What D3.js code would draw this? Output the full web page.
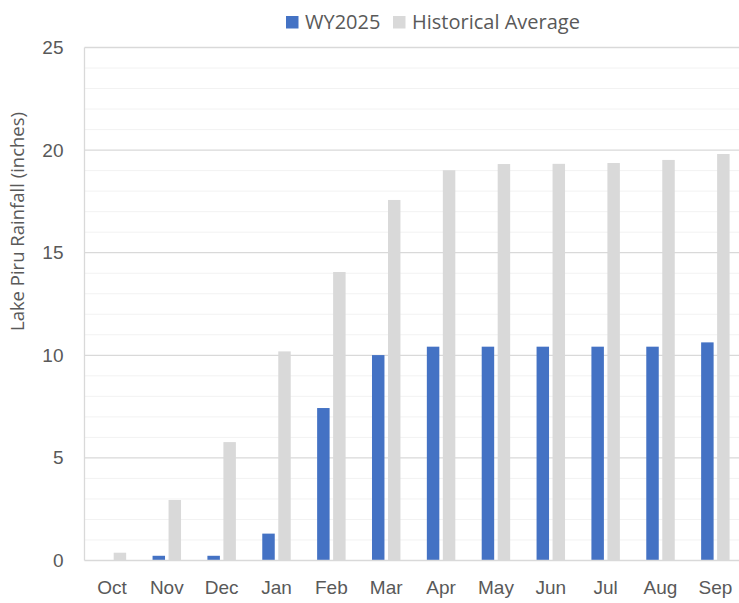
<!DOCTYPE html>
<html>
<head>
<meta charset="utf-8">
<title>Lake Piru Rainfall</title>
<script src="https://d3js.org/d3.v7.min.js"></script>
<style>
  body { margin: 0; background: #fff; }
  svg { display: block; font-family: "Open Sans", "Noto Sans", sans-serif; }
</style>
</head>
<body>
<svg id="chart" width="739" height="603"></svg>
<script>
var months = ['Oct', 'Nov', 'Dec', 'Jan', 'Feb', 'Mar', 'Apr', 'May', 'Jun', 'Jul', 'Aug', 'Sep'];
var wy2025 = [0, 0.23, 0.23, 1.31, 7.43, 10.01, 10.42, 10.42, 10.42, 10.42, 10.42, 10.63];
var histAvg = [0.38, 2.95, 5.77, 10.19, 14.06, 17.57, 19.02, 19.32, 19.33, 19.37, 19.52, 19.81];
var seriesNames = ['WY2025', 'Historical Average'];
var colors = ['#4472C4', '#D9D9D9'];
var yTicks = [0, 5, 10, 15, 20, 25];

var data = months.map((m, i) => ({ month: m, values: [wy2025[i], histAvg[i]] }));

var svg = d3.select('#chart');
var plotLeft = 84.5, plotRight = 742.8, plotTop = 47.5, plotBottom = 560.5;

var x0 = d3.scaleBand().domain(months).range([plotLeft, plotRight]);
var x1 = d3.scaleBand().domain([0, 1]).range([0, x0.bandwidth()])
	.paddingInner(0.22).paddingOuter(0.825);
var y = d3.scaleLinear().domain([0, 25]).range([plotBottom, plotTop]);

// minor grid
svg.append('g')
	.selectAll('line')
	.data(d3.range(1, 25).filter(v => v % 5 != 0))
	.enter().append('line')
	.attr('x1', plotLeft).attr('x2', plotRight)
	.attr('y1', d => y(d)).attr('y2', d => y(d))
	.attr('stroke', '#F2F2F2').attr('stroke-width', 1);

// major grid
svg.append('g')
	.selectAll('line')
	.data(yTicks.slice(1))
	.enter().append('line')
	.attr('x1', plotLeft).attr('x2', plotRight)
	.attr('y1', d => y(d)).attr('y2', d => y(d))
	.attr('stroke', '#D9D9D9').attr('stroke-width', 1.3);

// left frame line
svg.append('line')
	.attr('x1', plotLeft).attr('x2', plotLeft)
	.attr('y1', plotTop).attr('y2', plotBottom)
	.attr('stroke', '#D9D9D9').attr('stroke-width', 1.3);

// bars
var groups = svg.append('g')
	.selectAll('g')
	.data(data)
	.enter().append('g')
	.attr('transform', d => 'translate(' + x0(d.month) + ',0)');

groups.selectAll('rect')
	.data(d => d.values)
	.enter().append('rect')
	.attr('x', (d, i) => x1(i))
	.attr('y', d => y(d))
	.attr('width', x1.bandwidth())
	.attr('height', d => y(0) - y(d))
	.attr('fill', (d, i) => colors[i]);

// bottom axis line
svg.append('line')
	.attr('x1', plotLeft).attr('x2', plotRight)
	.attr('y1', plotBottom).attr('y2', plotBottom)
	.attr('stroke', '#D9D9D9').attr('stroke-width', 1.3);

// y axis
var yAxis = svg.append('g')
	.attr('transform', 'translate(' + plotLeft + ',0)')
	.call(d3.axisLeft(y).tickValues(yTicks).tickSize(0).tickPadding(21));
yAxis.select('.domain').remove();
yAxis.selectAll('text')
	.attr('fill', '#595959')
	.style('font-size', '19px');

// x axis
var xAxis = svg.append('g')
	.attr('transform', 'translate(0,' + plotBottom + ')')
	.call(d3.axisBottom(x0).tickSize(0).tickPadding(20));
xAxis.select('.domain').remove();
xAxis.selectAll('text')
	.attr('fill', '#595959')
	.style('font-size', '19px');

// y title
svg.append('text')
	.attr('transform', 'translate(24,221.5) rotate(-90)')
	.attr('text-anchor', 'middle')
	.attr('fill', '#595959')
	.style('font-size', '18.5px')
	.text('Lake Piru Rainfall (inches)');

// legend
var legend = svg.append('g');
var legendX = [286, 393];
seriesNames.forEach((name, i) => {
	legend.append('rect')
		.attr('x', legendX[i]).attr('y', 16)
		.attr('width', 12.5).attr('height', 12.5)
		.attr('fill', colors[i]);
	legend.append('text')
		.attr('x', legendX[i] + 19).attr('y', 29)
		.attr('fill', '#595959')
		.style('font-size', '20px')
		.text(name);
});
</script>
</body>
</html>
